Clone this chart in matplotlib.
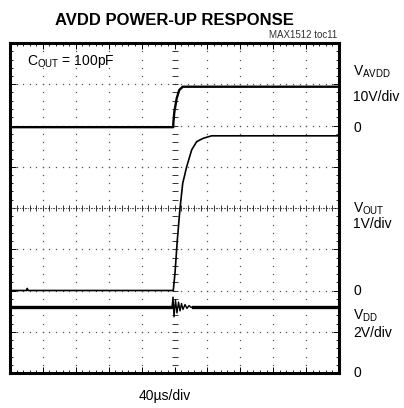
import matplotlib
matplotlib.use("Agg")
import matplotlib.pyplot as plt
import numpy as np

plt.rcParams['font.family'] = ['Liberation Sans', 'DejaVu Sans']
plt.rcParams['mathtext.fontset'] = 'custom'
plt.rcParams['mathtext.rm'] = 'Liberation Sans'
plt.rcParams['mathtext.it'] = 'Liberation Sans'

# scope setup: 10 x 40us horizontal, 8 vertical divisions
t_div = 40
n_xdiv = 10
n_ydiv = 8

# V_AVDD trace (us, V), 10V/div, zero at 6th division
avdd_t = [0, 198.5, 198.6, 199.8, 202.7, 205.8, 210.0, 400]
avdd_v = [0, 0, 1.0, 3.7, 7.0, 9.0, 9.8, 9.8]
avdd_scale, avdd_zero = 10, 5.96

# V_OUT trace (us, V), 1V/div, zero at 2nd division
vout_t = [0, 20, 21, 22, 198.5, 200.6, 203.4, 206.7, 210.0, 214.8, 220.9, 227.0, 235.0, 245.2, 400]
vout_v = [0.0, 0.0, 0.05, 0.0, 0.0, 0.42, 1.22, 1.99, 2.60, 3.0, 3.41, 3.61, 3.69, 3.75, 3.75]
vout_scale, vout_zero = 1, 2.0

# V_DD trace (us, V), 2V/div, zero at bottom
vdd_t = [0, 197.0, 198.2, 199.4, 201.2, 203.0, 204.9, 206.7, 208.5, 210.3, 212.8, 215.2, 217.6, 220.1, 222.5, 400]
vdd_v = [3.21, 3.21, 3.68, 2.72, 3.54, 2.91, 3.44, 3.01, 3.37, 3.08, 3.32, 3.13, 3.27, 3.18, 3.21, 3.21]
vdd_scale, vdd_zero = 2, 0.0

# right-hand channel labels (text, baseline in divisions)
right_labels = [("$\\mathrm{V_{AVDD}}$", 7.2), ("10V/div", 6.59), ("0", 5.84),
                ("$\\mathrm{V_{OUT}}$", 3.88), ("1V/div", 3.52), ("0", 1.89),
                ("$\\mathrm{V_{DD}}$", 1.285), ("2V/div", 0.87), ("0", -0.1)]

fig = plt.figure(figsize=(4.04, 4.08), dpi=100)
ax = fig.add_axes([10 / 404, 35 / 408, 329 / 404, 330 / 408])
ax.set_xlim(0, t_div * n_xdiv)
ax.set_ylim(0, n_ydiv)

# dotted graticule
xmin = np.arange(0, t_div * n_xdiv + 0.1, t_div / 5)
ymin = np.arange(0, n_ydiv + 0.01, 0.2)
for k in range(1, n_xdiv):
    if k == n_xdiv // 2:
        continue
    ax.plot([k * t_div] * len(ymin), ymin, ls='none', marker='s', ms=0.9, color='#555555', mew=0)
for k in range(1, n_ydiv):
    if k == n_ydiv // 2:
        continue
    ax.plot(xmin, [k] * len(xmin), ls='none', marker='s', ms=0.9, color='#555555', mew=0)

# center axes with minor marks
cx = t_div * n_xdiv / 2
cy = n_ydiv / 2
ax.plot(np.arange(0, t_div * n_xdiv, 2), [cy] * 200, ls='none', marker='s', ms=0.8, color='#555555', mew=0)
ax.plot(xmin, [cy] * len(xmin), ls='none', marker='|', ms=4, color='#333333', mew=0.7)
ax.plot([cx] * len(ymin), ymin, ls='none', marker='_', ms=5, color='#333333', mew=0.7)

# traces
ax.plot(avdd_t, np.array(avdd_v) / avdd_scale + avdd_zero, color='black', lw=1.7, solid_joinstyle='round')
ax.plot(vout_t, np.array(vout_v) / vout_scale + vout_zero, color='black', lw=1.2)
vdd_t = np.array(vdd_t)
vdd_y = np.array(vdd_v) / vdd_scale + vdd_zero
ax.plot(vdd_t, vdd_y, color='black', lw=1.0)
flat = vdd_t <= 197.0
ax.plot(vdd_t[flat], vdd_y[flat], color='black', lw=2.4)
flat = vdd_t >= 222.5
ax.plot(vdd_t[flat], vdd_y[flat], color='black', lw=2.4)

ax.set_xticks(np.arange(0, t_div * n_xdiv + 1, t_div))
ax.set_yticks(np.arange(0, n_ydiv + 1, 1))
ax.set_xticks(xmin, minor=True)
ax.set_yticks(ymin, minor=True)
ax.tick_params(which='both', direction='in', top=True, right=True, labelbottom=False, labelleft=False)
ax.tick_params(which='major', length=4, width=0.7)
ax.tick_params(which='minor', length=2.5, width=0.6)
for s in ax.spines.values():
    s.set_linewidth(2.2)

ax.text(0.052, 0.933, "$\\mathrm{C_{OUT}}$ = 100pF", transform=ax.transAxes, fontsize=10, va='baseline', ha='left')

for txt, yv in right_labels:
    ax.text(1.043, yv / n_ydiv, txt, transform=ax.transAxes, fontsize=10, va='baseline', ha='left', clip_on=False)

fig.text(174 / 404, 1 - 25 / 408, "AVDD POWER-UP RESPONSE", fontsize=12, fontweight='bold', ha='center', va='baseline')
fig.text(337 / 404, 1 - 38 / 408, "MAX1512 toc11", fontsize=7, ha='right', va='baseline', color='#333333')
fig.text(165 / 404, 8 / 408, "40\u00b5s/div", fontsize=10, ha='center', va='baseline')

fig.savefig("out.png", dpi=100)
